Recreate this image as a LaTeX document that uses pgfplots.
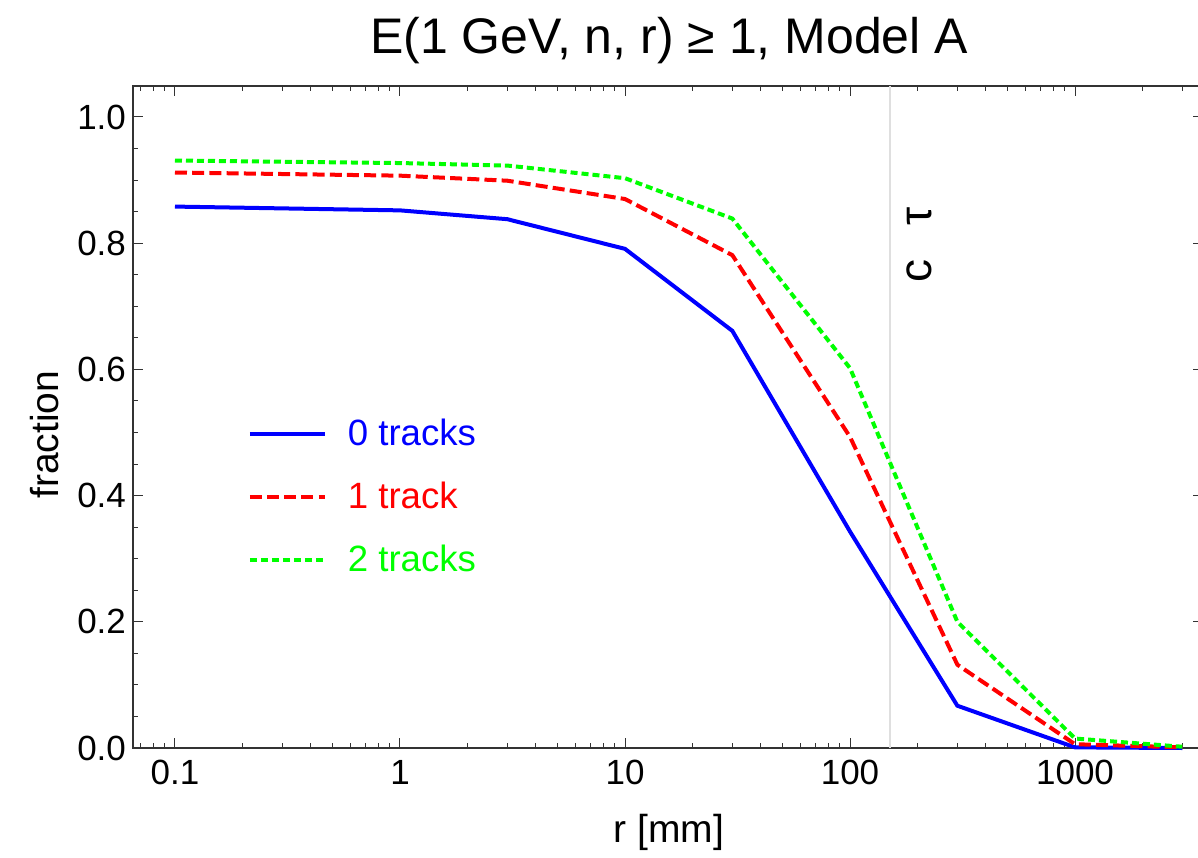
\documentclass[border=0pt]{standalone}
\usepackage{fontspec}
\setmainfont{Liberation Sans}
\usepackage{pgfplots}
\usepackage{pgfplotstable}
\pgfplotsset{compat=1.18}

% fraction of events vs. decay radius, for 0, 1 and 2 tracks
\pgfplotstableread{
r     zero   one    two
0.1   0.858  0.912  0.931
1     0.852  0.907  0.927
3     0.838  0.899  0.923
10    0.791  0.870  0.903
30    0.661  0.781  0.839
100   0.343  0.493  0.602
300   0.067  0.132  0.200
1000  0.001  0.006  0.015
3000  0.000  0.001  0.002
}\fractable

\begin{document}
\begin{tikzpicture}[x=1pt,y=1pt]
\useasboundingbox (0,0) rectangle (599,428.5);
\begin{axis}[
  at={(66.5pt,54.5pt)}, anchor=south west,
  scale only axis, width=535pt, height=331pt,
  xmode=log, log basis x=10,
  xmin=0.06507, xmax=3706, ymin=0, ymax=1.0491,
  clip=false,
  axis line style={black!80, line width=0.6pt},
  tick align=inside,
  tick style={black!80, line width=0.5pt},
  major tick length=5pt, minor tick length=2.5pt,
  xtick={0.1,1,10,100,1000},
  xticklabels={0.1,1,10,100,1000},
  minor xtick={0.07,0.08,0.09,0.2,0.3,0.4,0.5,0.6,0.7,0.8,0.9,2,3,4,5,6,7,8,9,20,30,40,50,60,70,80,90,200,300,400,500,600,700,800,900,2000,3000},
  ytick={0,0.2,0.4,0.6,0.8,1.0},
  minor y tick num=3,
  /pgf/number format/.cd, fixed, fixed zerofill, precision=1, assume math mode=true,
  /pgfplots/.cd,
  ticklabel style={font=\fontsize{17.5}{21}\selectfont},
  xticklabel style={yshift=-2.7pt},
  title={E(1 GeV, n, r) ≥ 1, Model A},
  title style={at={(axis description cs:0.501,1.051)}, anchor=center,
    font=\fontsize{25}{30}\selectfont},
  xlabel={r [mm]},
  xlabel style={at={(axis description cs:0.501,-0.127)}, anchor=center,
    font=\fontsize{19.5}{23}\selectfont},
  ylabel={fraction},
  ylabel style={at={(axis description cs:-0.0826,0.473)}, anchor=center,
    font=\fontsize{19.5}{23}\selectfont},
  legend style={draw=none, fill=none, inner sep=0pt,
    at={(axis description cs:0.107,0.379)}, anchor=west,
    font=\fontsize{18.3}{22}\selectfont, row sep=12.8pt},
  legend cell align=left,
  legend image code/.code={\draw[#1] (0pt,0pt) -- (37.5pt,0pt);},
  /tikz/every odd column/.append style={column sep=8.5pt},
]
% reference length c tau
\addplot[gray!25, line width=1pt, forget plot] coordinates {(150,0) (150,1.0491)};
\node[rotate=90, font=\fontsize{23}{27}\selectfont] at (axis cs:204,0.797) {c\hspace{0.75em}τ};

\addplot[blue, line width=2pt] table[x=r, y=zero] {\fractable};
\addlegendentry{\textcolor{blue}{0 tracks}}
\addplot[red, line width=2pt, dash pattern=on 6pt off 2.6pt] table[x=r, y=one] {\fractable};
\addlegendentry{\textcolor{red}{1 track}}
\addplot[green, line width=2pt, dash pattern=on 3.5pt off 2pt] table[x=r, y=two] {\fractable};
\addlegendentry{\textcolor{green}{2 tracks}}
\end{axis}
\end{tikzpicture}
\end{document}
